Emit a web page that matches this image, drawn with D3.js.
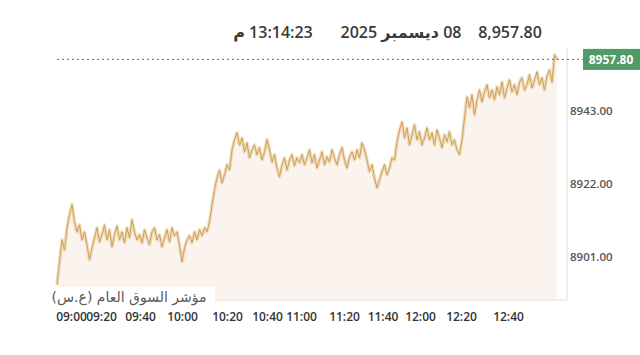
<!DOCTYPE html>
<html>
<head>
<meta charset="utf-8">
<script src="https://cdn.jsdelivr.net/npm/d3@7"></script>
<style>
  body { margin: 0; background: #fff; }
  svg { display: block; font-family: "Open Sans", "Noto Sans", "DejaVu Sans", sans-serif; }
</style>
</head>
<body>
<div id="chart"></div>
<script>
// index values, one point per sample
var values = [
  8893.0, 8899.6, 8905.9, 8903.0, 8909.4, 8913.1, 8916.0, 8911.1, 8908.2, 8910.2,
  8905.9, 8908.2, 8904.5, 8900.2, 8903.6, 8906.5, 8909.4, 8905.3, 8907.4, 8910.2,
  8905.9, 8908.8, 8903.9, 8907.4, 8909.9, 8905.9, 8908.2, 8905.1, 8909.4, 8906.5,
  8911.7, 8908.2, 8905.9, 8907.4, 8905.1, 8908.8, 8906.5, 8904.5, 8908.2, 8909.4,
  8905.9, 8907.4, 8903.9, 8906.5, 8908.8, 8905.3, 8909.4, 8907.1, 8908.2, 8904.5,
  8899.6, 8903.6, 8905.9, 8907.1, 8905.1, 8908.2, 8905.9, 8908.8, 8907.1, 8909.4,
  8908.2, 8911.1, 8916.0, 8920.3, 8923.7, 8926.0, 8922.3, 8924.6, 8927.5, 8926.0,
  8931.8, 8934.7, 8936.7, 8933.2, 8935.2, 8931.2, 8933.8, 8929.5, 8931.8, 8933.2,
  8930.4, 8932.4, 8928.9, 8931.2, 8934.7, 8931.8, 8928.3, 8930.4, 8926.6, 8924.0,
  8927.5, 8929.5, 8926.0, 8928.9, 8930.4, 8927.2, 8929.5, 8928.1, 8930.4, 8927.5,
  8929.5, 8931.8, 8928.1, 8930.4, 8926.6, 8928.9, 8931.2, 8927.5, 8929.8, 8928.3,
  8931.8, 8929.5, 8927.5, 8930.4, 8932.4, 8928.9, 8926.6, 8929.8, 8931.2, 8928.9,
  8931.8, 8929.5, 8933.8, 8931.8, 8928.9, 8925.5, 8927.5, 8923.7, 8920.9, 8923.2,
  8925.5, 8927.5, 8924.6, 8926.6, 8929.5, 8928.9, 8934.1, 8937.5, 8939.8, 8935.2,
  8938.1, 8933.2, 8936.1, 8939.0, 8934.7, 8937.0, 8933.2, 8935.2, 8938.1, 8934.7,
  8936.7, 8933.2, 8937.5, 8935.2, 8932.4, 8936.1, 8934.1, 8937.0, 8933.2, 8934.7,
  8931.8, 8930.4, 8934.7, 8941.0, 8947.0, 8943.9, 8947.6, 8941.9, 8946.2, 8949.0,
  8945.6, 8948.5, 8950.5, 8946.7, 8949.0, 8946.2, 8949.9, 8947.6, 8951.3, 8946.7,
  8949.6, 8951.9, 8948.5, 8950.5, 8947.6, 8951.3, 8952.5, 8949.0, 8950.5, 8953.4,
  8949.6, 8951.9, 8954.2, 8950.5, 8952.5, 8949.0, 8953.1, 8954.8, 8951.3, 8959.1, 8957.8
];

// time labels and the sample index where each one sits
var tickLabels = ["09:00", "09:20", "09:40", "10:00", "10:20", "10:40", "11:00", "11:20", "11:40", "12:00", "12:20", "12:40"];
var tickIndex = [5.6, 17.6, 33.2, 50, 68, 84, 97.6, 114.8, 130.2, 145.2, 161.6, 180.4];

var yTicks = [8901, 8922, 8943];
var lastValue = 8957.80;
var titleParts = ["8,957.80", "08 ديسمبر 2025", "13:14:23 م"];
var indexName = "مؤشر السوق العام (ع.س)";

var width = 640, height = 355;
var plot = { left: 57, right: 567, top: 48, bottom: 300 };

var svg = d3.select("#chart").append("svg")
  .attr("width", width)
  .attr("height", height);

var x = d3.scaleLinear()
  .domain([0, values.length - 1])
  .range([plot.left, 557]);

var y = d3.scaleLinear()
  .domain([8888.6, 8960.5])
  .range([plot.bottom, 50]);

// area under the line
var area = d3.area()
  .x(function(d, i) { return x(i); })
  .y0(plot.bottom)
  .y1(function(d) { return y(d); });

svg.append("path")
  .datum(values)
  .attr("d", area)
  .attr("fill", "#fbf4ee");

// frame: bottom and right edges
svg.append("line")
  .attr("x1", plot.left).attr("x2", plot.right)
  .attr("y1", plot.bottom).attr("y2", plot.bottom)
  .attr("stroke", "#dcdcdc");
svg.append("line")
  .attr("x1", plot.right).attr("x2", plot.right)
  .attr("y1", plot.top).attr("y2", plot.bottom)
  .attr("stroke", "#dcdcdc");

// the price line, a soft wide stroke under a thin one
var line = d3.line()
  .x(function(d, i) { return x(i); })
  .y(function(d) { return y(d); });

svg.append("path")
  .datum(values)
  .attr("d", line)
  .attr("fill", "none")
  .attr("stroke", "#e2c088")
  .attr("stroke-width", 3.5)
  .attr("stroke-opacity", 0.5)
  .attr("stroke-linejoin", "round");

svg.append("path")
  .datum(values)
  .attr("d", line)
  .attr("fill", "none")
  .attr("stroke", "#cf9f55")
  .attr("stroke-width", 1)
  .attr("stroke-linejoin", "round");

// last price guide
svg.append("line")
  .attr("x1", plot.left).attr("x2", 583)
  .attr("y1", y(lastValue)).attr("y2", y(lastValue))
  .attr("stroke", "#666")
  .attr("stroke-dasharray", "2,3");

svg.append("rect")
  .attr("x", 583).attr("y", y(lastValue) - 10.5)
  .attr("width", 57).attr("height", 21)
  .attr("fill", "#4f9a66");
svg.append("text")
  .attr("x", 611).attr("y", y(lastValue))
  .attr("dy", "0.35em")
  .attr("text-anchor", "middle")
  .attr("fill", "#fff")
  .attr("font-size", 12)
  .attr("font-weight", 700)
  .text(d3.format(".2f")(lastValue));

// y axis on the right
var yAxis = svg.append("g")
  .attr("transform", "translate(" + plot.right + ",0)")
  .call(d3.axisRight(y).tickValues(yTicks).tickFormat(d3.format(".2f")).tickSize(0).tickPadding(3));
yAxis.select(".domain").remove();
yAxis.selectAll("text")
  .attr("fill", "#555")
  .attr("font-size", 11.5)
  .attr("font-weight", 600)
  .style("font-family", "'Open Sans', sans-serif");

// x axis
var xAxis = svg.append("g")
  .attr("transform", "translate(0," + plot.bottom + ")")
  .call(d3.axisBottom(x).tickValues(tickIndex)
    .tickFormat(function(d, i) { return tickLabels[i]; })
    .tickSize(0).tickPadding(12));
xAxis.select(".domain").remove();
xAxis.selectAll("text")
  .attr("fill", "#333")
  .attr("font-size", 12)
  .attr("font-weight", 600)
  .style("font-family", "'Open Sans', sans-serif");

// index name over the bottom edge
svg.append("rect")
  .attr("x", 45).attr("y", 287)
  .attr("width", 170).attr("height", 17)
  .attr("fill", "#fff");
svg.append("text")
  .attr("x", 129).attr("y", 302)
  .attr("text-anchor", "middle")
  .attr("direction", "rtl")
  .attr("fill", "#5a5a5a")
  .attr("font-size", 14)
  .style("font-family", "'DejaVu Sans', sans-serif")
  .text(indexName);

// title
var titleX = [510, 401, 273];
svg.selectAll(".title")
  .data(titleParts)
  .enter()
  .append("text")
  .attr("class", "title")
  .attr("x", function(d, i) { return titleX[i]; })
  .attr("y", 38)
  .attr("text-anchor", "middle")
  .attr("direction", "rtl")
  .attr("fill", "#3a3a3a")
  .attr("font-size", 16)
  .attr("font-weight", 600)
  .text(function(d) { return d; });
</script>
</body>
</html>
